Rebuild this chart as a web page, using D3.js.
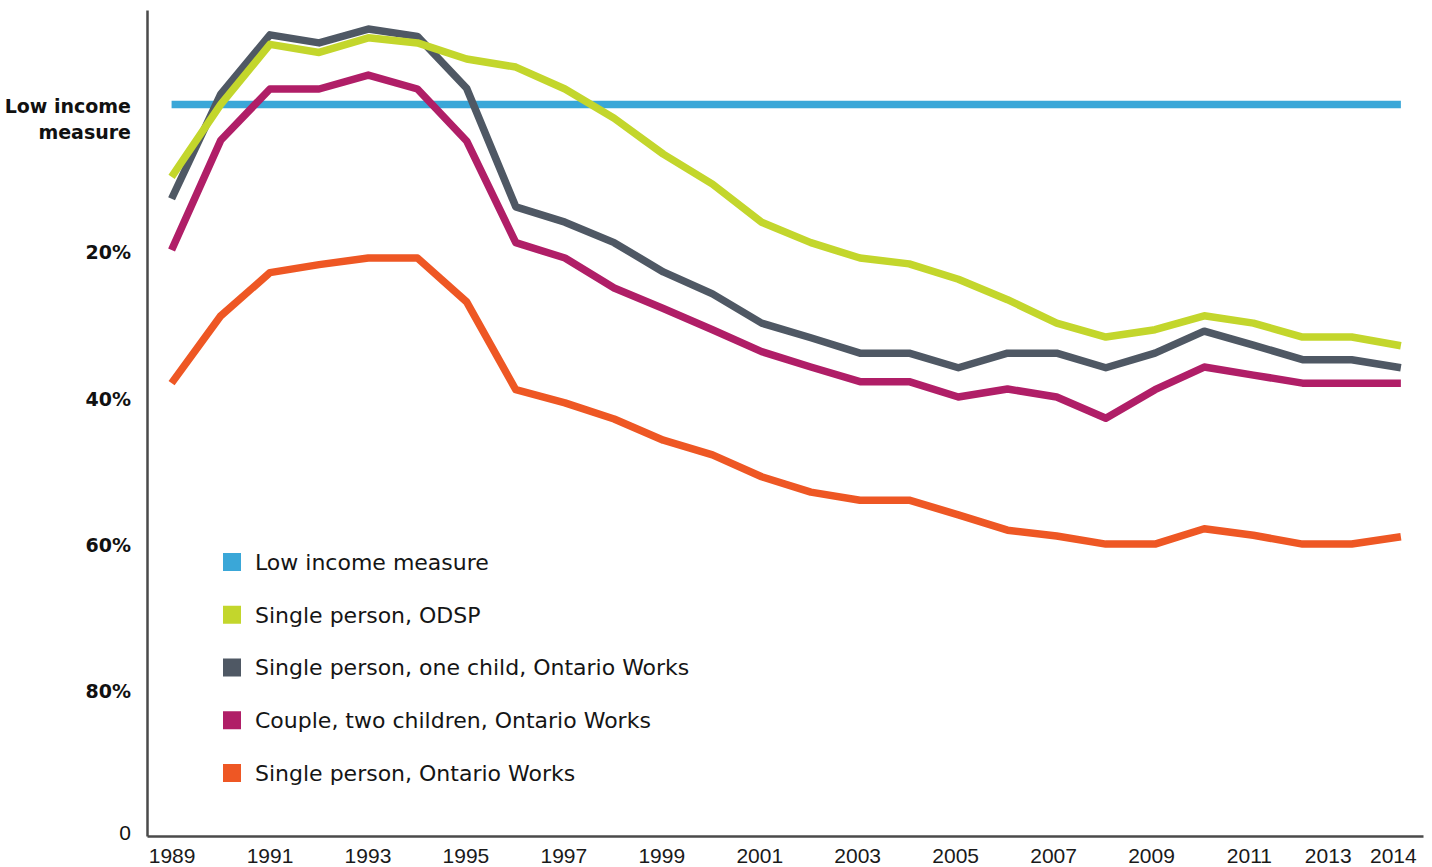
<!DOCTYPE html>
<html>
<head>
<meta charset="utf-8">
<script src="https://cdn.jsdelivr.net/npm/d3@7"></script>
<style>
  body { margin: 0; background: #fff; }
  svg { display: block; }
  .axis path { stroke: #4a4a4a; stroke-width: 2.5; }
  .x-axis text { font-family: "Liberation Sans", Arial, sans-serif; font-size: 21px; fill: #1a1a1a; }
  .y-axis text { font-family: "DejaVu Sans", sans-serif; font-size: 19px; font-weight: bold; fill: #111; }
  .y-axis text.zero { font-family: "Liberation Sans", Arial, sans-serif; font-weight: normal; font-size: 21px; }
  .legend text { font-family: "DejaVu Sans", sans-serif; font-size: 22px; fill: #151515; }
  .series { fill: none; stroke-width: 7.5; stroke-linejoin: round; }
</style>
</head>
<body>
<svg width="1432" height="867"></svg>
<script>
const w = 1432, h = 867;

// years on the x axis
const years = d3.range(1989, 2015);

// percent below the low income measure (negative = above it)
const lim = years.map(() => 0);
const odsp = [9.9, 0, -8.2, -7.1, -9.1, -8.4, -6.2, -5.1, -2.1, 1.9, 6.8, 10.9, 16.1,
              18.9, 21.0, 21.8, 23.9, 26.7, 29.9, 31.8, 30.8, 28.9, 29.9, 31.8, 31.8, 33.0];
const oneChild = [12.9, -1.4, -9.5, -8.4, -10.3, -9.3, -2.2, 14.0, 16.1, 18.9, 22.9, 25.9, 29.9,
                  31.9, 34.0, 34.0, 36.0, 34.0, 34.0, 36.0, 34.0, 31.0, 32.9, 34.9, 34.9, 36.0];
const couple = [19.9, 4.9, -2.1, -2.1, -4.0, -2.1, 5.0, 18.9, 21.0, 25.1, 27.9, 30.8, 33.8,
                35.9, 37.9, 37.9, 40.0, 38.9, 40.0, 42.9, 39.0, 35.9, 37.0, 38.1, 38.1, 38.1];
const singleOW = [38.1, 28.9, 23.0, 21.9, 21.0, 21.0, 27.0, 39.0, 40.8, 43.0, 45.9, 47.9, 50.9,
                  53.0, 54.1, 54.1, 56.1, 58.2, 59.0, 60.1, 60.1, 58.0, 58.9, 60.1, 60.1, 59.1];

const seriesNames = ["Low income measure", "Single person, ODSP",
  "Single person, one child, Ontario Works", "Couple, two children, Ontario Works",
  "Single person, Ontario Works"];
const seriesColors = ["#3aa7d8", "#c3d62c", "#4f5864", "#b01e67", "#ee5724"];
const seriesValues = [lim, odsp, oneChild, couple, singleOW];

const xTicks = [1989, 1991, 1993, 1995, 1997, 1999, 2001, 2003, 2005, 2007, 2009, 2011, 2013, 2014];
const yTicks = [0, 20, 40, 60, 80, 100];
const yTickLabels = ["Low income measure", "20%", "40%", "60%", "80%", "0"];

const scaleX = d3.scaleLinear().domain([1988.5, 2014.45]).range([147, 1423]);
const scaleY = d3.scaleLinear().domain([100, -12.9]).range([836, 10]);

const svg = d3.select("svg");

// axes
const axisX = d3.axisBottom(scaleX).tickValues(xTicks).tickSize(0).tickPadding(12)
        .tickFormat(d3.format("d"));
const xG = svg.append("g").attr("class", "axis x-axis")
        .attr("transform", `translate(0,836)`).call(axisX);
// nudge the crowded labels at the right end a bit left
const nudge = {2013: -24, 2014: -8};
xG.selectAll(".tick text")
        .attr("dx", d => nudge[d] !== undefined ? nudge[d] : -(d - 1989) * 0.2);

const axisY = d3.axisLeft(scaleY).tickValues(yTicks).tickSize(0).tickPadding(16)
        .tickFormat((d, i) => yTickLabels[i]);
const yG = svg.append("g").attr("class", "axis y-axis")
        .attr("transform", `translate(147,0)`).call(axisY);
yG.selectAll(".tick text")
        .classed("zero", d => d === 100)
        .attr("dy", d => d === 100 ? "0.15em" : "0.42em")
        .each(function(d) {
            if (d !== 0) return;
            const t = d3.select(this);
            t.text(null);
            t.append("tspan").attr("x", -16).text("Low income");
            t.append("tspan").attr("x", -16).attr("dy", 26).text("measure");
        });
svg.selectAll(".axis .tick line").remove();

// lines
const line = d3.line().x((d, i) => scaleX(years[i])).y(d => scaleY(d));
const order = [0, 4, 3, 2, 1];
svg.append("g").selectAll("path.series")
        .data(order)
        .join("path").attr("class", "series")
        .attr("d", i => line(seriesValues[i]))
        .style("stroke", i => seriesColors[i]);

// legend
const legend = svg.append("g").attr("class", "legend")
        .attr("transform", `translate(223,562)`);
legend.selectAll("g.item")
        .data(seriesNames)
        .join("g").attr("class", "item")
        .each(function(d, i) {
            d3.select(this).append("rect")
                    .attr("x", 0).attr("y", i * 52.75 - 9)
                    .attr("width", 18).attr("height", 18)
                    .style("fill", seriesColors[i]);
            d3.select(this).append("text")
                    .attr("x", 32).attr("y", i * 52.75)
                    .attr("dy", "0.36em")
                    .text(d);
        });
</script>
</body>
</html>
